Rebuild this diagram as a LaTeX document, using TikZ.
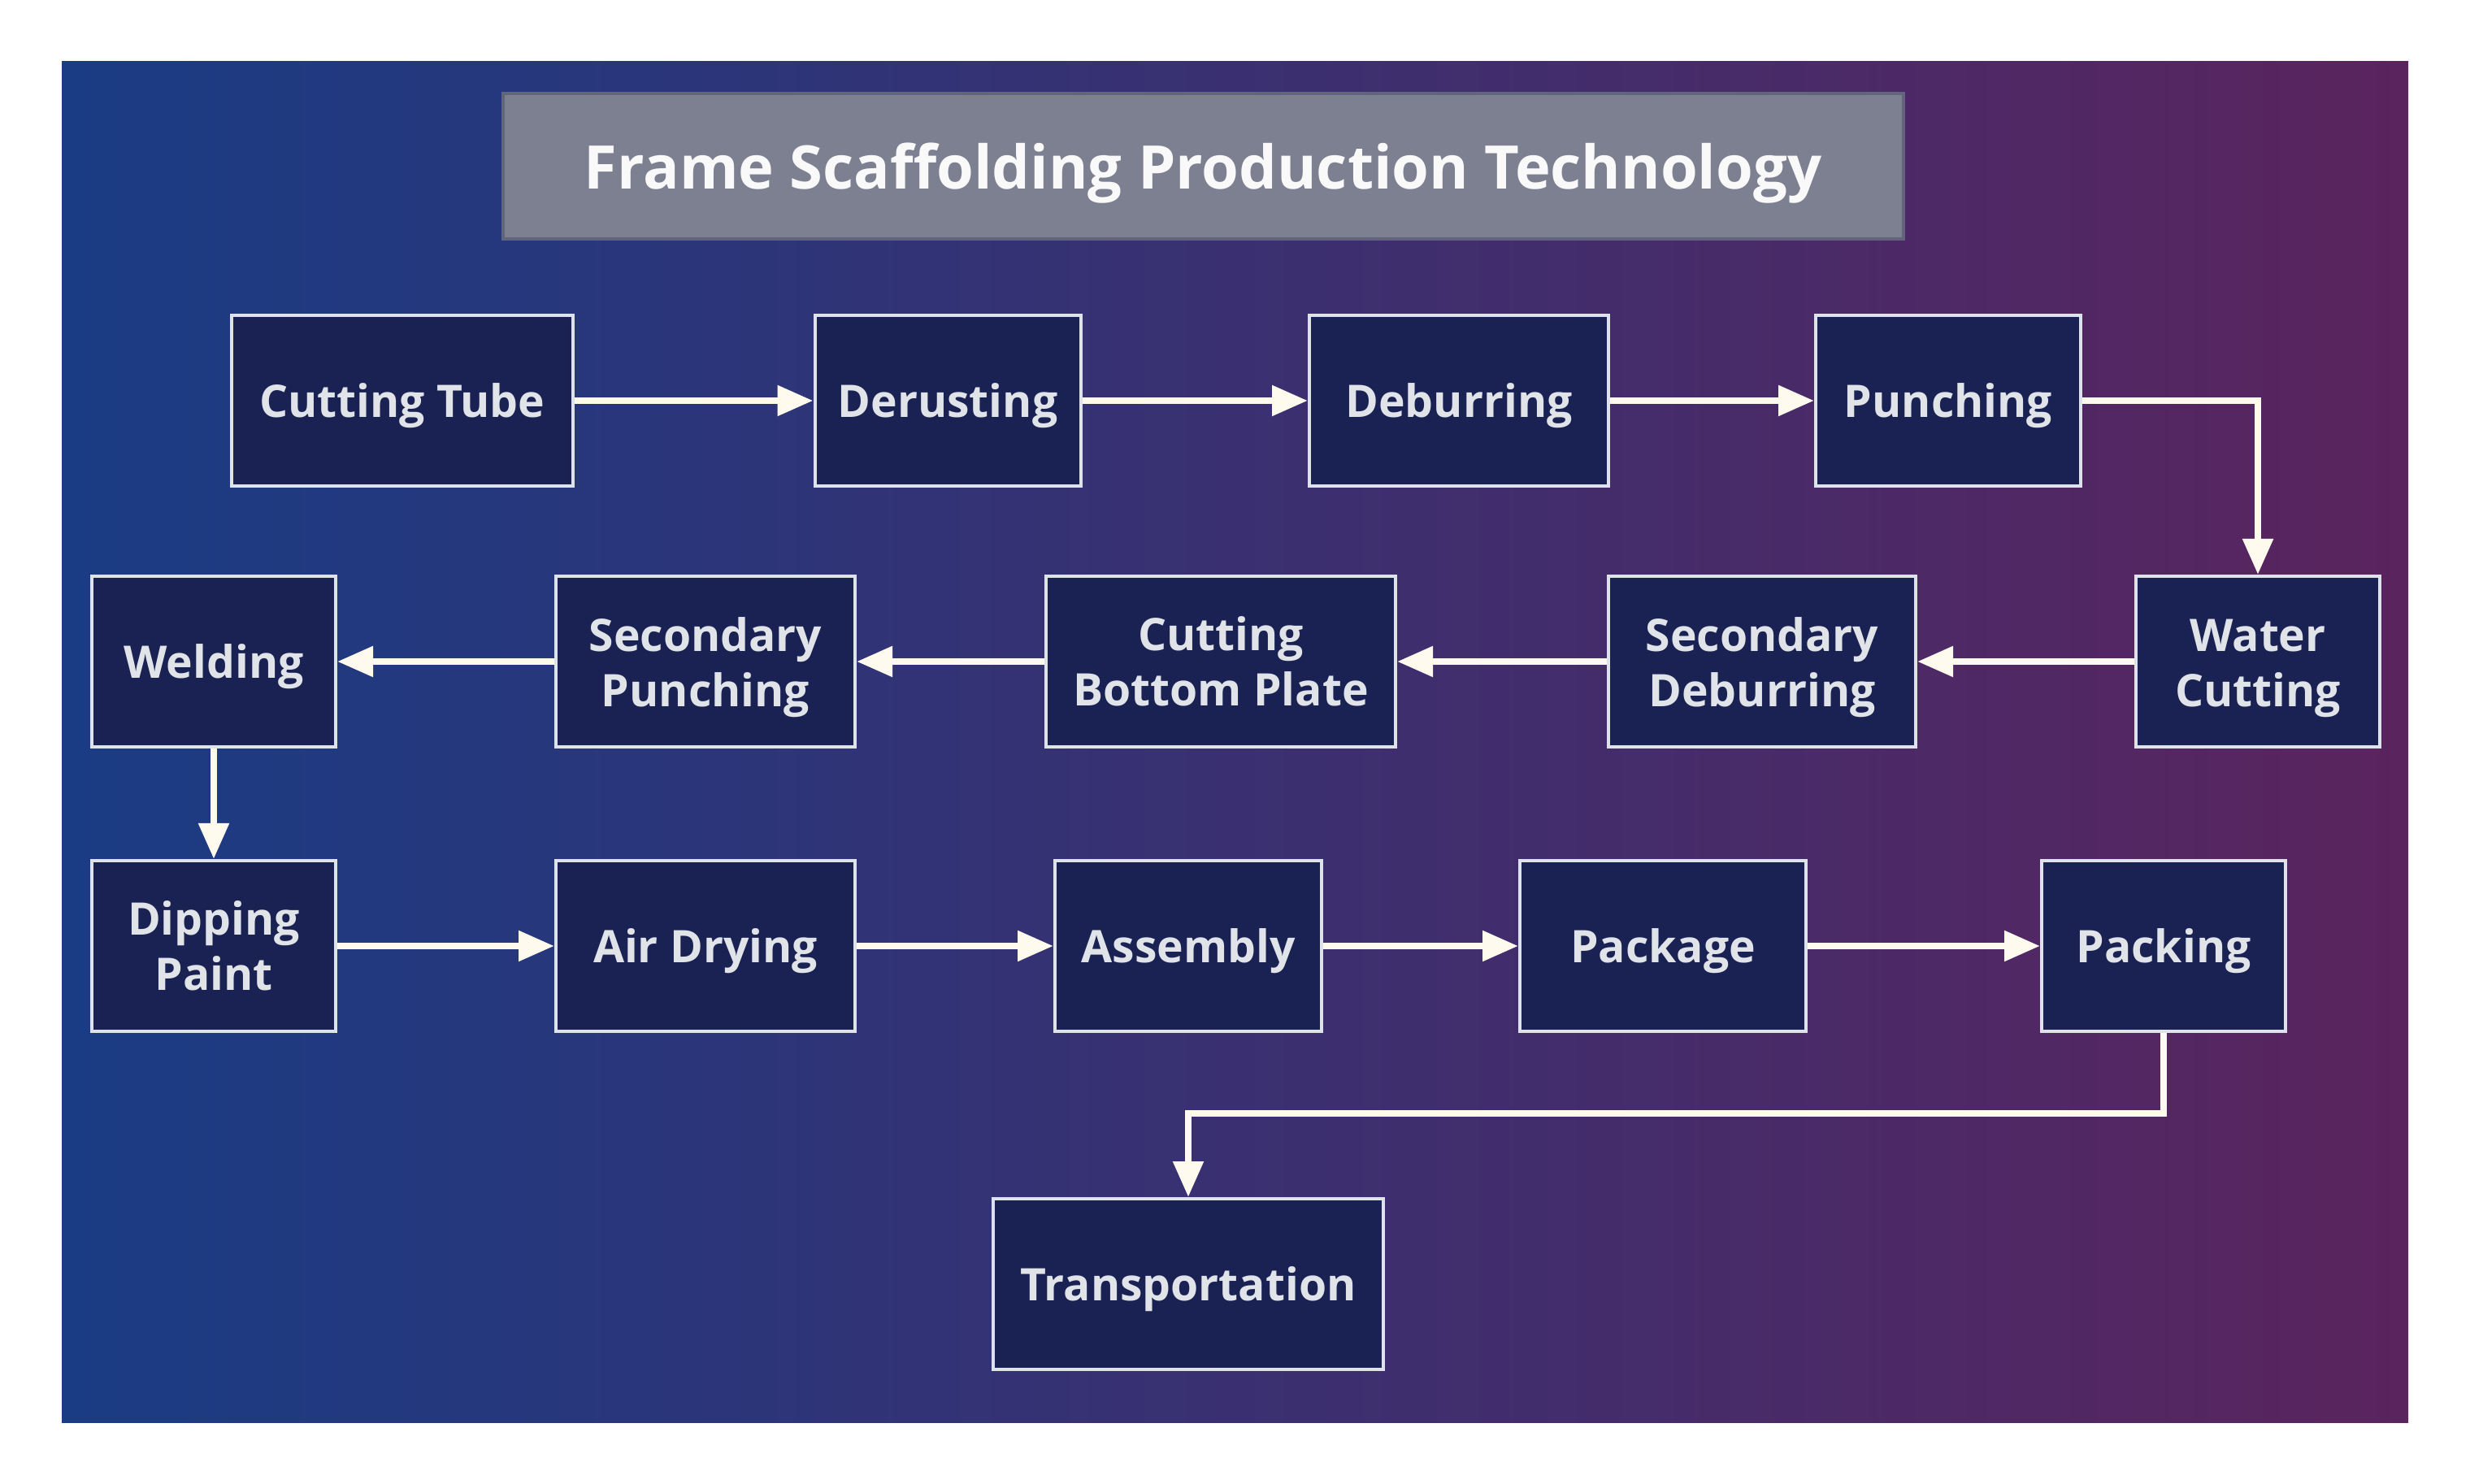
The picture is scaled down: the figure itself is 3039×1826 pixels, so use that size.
\documentclass[tikz,border=0pt]{standalone}
\usepackage{fontspec}
\setmainfont{Open Sans}
\usetikzlibrary{arrows.meta}
\definecolor{bgL}{RGB}{26,60,132}
\definecolor{bgR}{RGB}{90,36,94}
\definecolor{boxfill}{RGB}{25,34,82}
\definecolor{boxline}{RGB}{222,226,234}
\definecolor{txt}{RGB}{224,227,232}
\definecolor{arrowc}{RGB}{255,250,238}
\definecolor{titlefill}{RGB}{125,128,144}
\definecolor{titleline}{RGB}{96,101,124}
\tikzset{
  stepbox/.style={draw=boxline, line width=1pt, fill=boxfill, text=txt,
    font=\bfseries\fontsize{13.8}{17}\selectfont, align=center,
    minimum height=52.5pt, inner sep=0pt,
    execute at begin node={\rule{0pt}{13.4pt}}},
  twoline/.style={execute at begin node={\rule{0pt}{31.3pt}}},
  flow/.style={draw=arrowc, line width=2.1pt,
    -{Triangle[length=11pt,width=9pt]}},
}
\begin{document}
\begin{tikzpicture}[x=0.25pt,y=-0.25pt]
\useasboundingbox (0,0) rectangle (3039,1826);
\fill[white] (0,0) rectangle (3039,1826);
\shade[left color=bgL, right color=bgR] (76,76) rectangle (2963,1750);
\node[draw=titleline, line width=1pt, fill=titlefill, text=white!95!gray,
  font=\bfseries\fontsize{18.5}{22}\selectfont,
  minimum width=430.75pt, minimum height=44.75pt, inner sep=0pt,
  execute at begin node={\rule{0pt}{18pt}}]
  (title) at (1480,205) {Frame Scaffolding Production Technology};
% row 1
\node[stepbox, minimum width=105pt]  (ct) at (495,493)  {Cutting Tube};
\node[stepbox, minimum width=81.75pt] (de) at (1166,493) {Derusting};
\node[stepbox, minimum width=92pt]   (db) at (1795,493) {Deburring};
\node[stepbox, minimum width=81.5pt] (pu) at (2397,493) {Punching};
% row 2
\node[stepbox, twoline, minimum width=75pt]   (wc) at (2778,814) {Water\\Cutting};
\node[stepbox, twoline, minimum width=94.5pt] (sd) at (2168,814) {Secondary\\Deburring};
\node[stepbox, minimum width=107.5pt] (cb) at (1502,814) {Cutting\\Bottom Plate};
\node[stepbox, twoline, minimum width=92pt]   (sp) at (868,814)  {Secondary\\Punching};
\node[stepbox, minimum width=75pt]   (we) at (263,814)  {Welding};
% row 3
\node[stepbox, minimum width=75pt]   (dp) at (263,1164) {Dipping\\Paint};
\node[stepbox, minimum width=92pt]   (ad) at (868,1164) {Air Drying};
\node[stepbox, minimum width=82pt]   (as) at (1462,1164) {Assembly};
\node[stepbox, minimum width=88pt]   (pk) at (2046,1164) {Package};
\node[stepbox, minimum width=75pt]   (pc) at (2662,1164) {Packing};
% row 4
\node[stepbox, minimum width=120pt]  (tr) at (1462,1580) {Transportation};
\coordinate (bend) at (2662,1370);
% connectors
\draw[flow] (ct) -- (de);
\draw[flow] (de) -- (db);
\draw[flow] (db) -- (pu);
\draw[flow] (pu) -| (wc);
\draw[flow] (wc) -- (sd);
\draw[flow] (sd) -- (cb);
\draw[flow] (cb) -- (sp);
\draw[flow] (sp) -- (we);
\draw[flow] (we) -- (dp);
\draw[flow] (dp) -- (ad);
\draw[flow] (ad) -- (as);
\draw[flow] (as) -- (pk);
\draw[flow] (pk) -- (pc);
\draw[flow] (pc) -- (bend) -| (tr);
\end{tikzpicture}
\end{document}
